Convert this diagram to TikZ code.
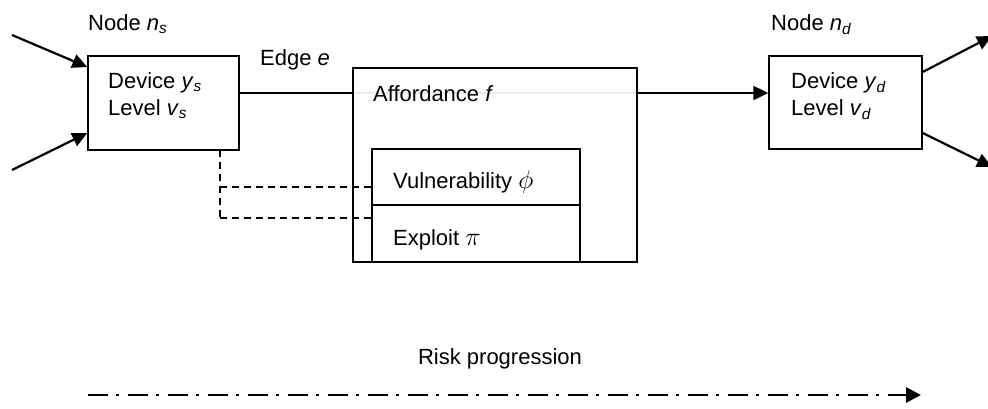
\documentclass[tikz,border=0pt]{standalone}
\usepackage{fontspec}
\setmainfont{Liberation Sans}
\usetikzlibrary{arrows.meta}
\newcommand{\sub}[2]{\textit{#1}\textsubscript{\textit{#2}}}
\begin{document}
\begin{tikzpicture}[x=1pt,y=-1pt,
  font=\fontsize{22}{27}\selectfont,
  box/.style={draw,line width=1.4pt,inner sep=0pt},
  lbl/.style={anchor=base west,inner sep=0pt},
  conn/.style={line width=2.2pt,-{Triangle[length=15pt,width=14pt]}},
  link/.style={line width=2.2pt},
  guide/.style={line width=1.4pt,dash pattern=on 7pt off 5pt},
  progress/.style={line width=2.8pt,dash pattern=on 20pt off 8pt on 3pt off 9pt,
    -{Triangle[length=15pt,width=15pt]}}]
\useasboundingbox (0,0) rectangle (988,408);
\clip (0,0) rectangle (988,408);

% edge from source to destination through the affordance
\coordinate (srcport) at (239,93);
\coordinate (affin) at (353,93);
\coordinate (affout) at (637,93);
\draw[black!8,line width=2pt] (affin) -- (affout);

% source and destination devices
\node[box,minimum width=151pt,minimum height=94pt] (src) at (163.5,103) {};
\node[box,minimum width=153pt,minimum height=93pt] (dst) at (845.5,102.5) {};
\node[lbl] (srcname) at (88,30) {Node \sub{n}{s}};
\node[lbl] (dstname) at (771,30) {Node \sub{n}{d}};
\node[lbl] (srcdev) at (108,88) {Device \sub{y}{s}};
\node[lbl] (srclev) at (108,115) {Level \sub{v}{s}};
\node[lbl] (dstdev) at (791,88) {Device \sub{y}{d}};
\node[lbl] (dstlev) at (791,115) {Level \sub{v}{d}};

% affordance with its vulnerability and exploit
\node[box,minimum width=284pt,minimum height=194pt] (aff) at (495,165) {};
\node[lbl] (afflbl) at (373,101) {Affordance \textit{f}};
\node[box,minimum width=208pt,minimum height=56pt] (vul) at (476,177) {};
\node[box,minimum width=208pt,minimum height=57pt] (exp) at (476,233.5) {};
\node[lbl] (vullbl) at (393,188) {Vulnerability \scalebox{1.25}{$\phi$}};
\node[lbl] (explbl) at (393,245) {Exploit \scalebox{1.25}{$\pi$}};
\node[lbl] (edgelbl) at (260,65) {Edge \textit{e}};

\draw[link] (src.east |- srcport) -- (aff.west |- srcport);
\draw[conn] (aff.east |- affout) -- (dst.west |- affout);

% incoming and outgoing edges
\coordinate (in1) at (12,35);
\coordinate (in2) at (12,170);
\coordinate (out1) at (992,36);
\coordinate (out2) at (992,167);
\draw[conn] (in1) -- (src.west |- 0,67);
\draw[conn] (in2) -- (src.west |- 0,133);
\draw[conn] (dst.east |- 0,72) -- (out1);
\draw[conn] (dst.east |- 0,133) -- (out2);

% dashed links from the source device to vulnerability and exploit
\coordinate (tap) at (220,150);
\draw[guide] (tap) -- (220,218);
\draw[guide] (220,187) -- (vul.west |- 0,187);
\draw[guide] (220,218) -- (exp.west |- 0,218);

% risk progression
\node[anchor=base,inner sep=0pt] (risk) at (500,364) {Risk progression};
\coordinate (rs) at (88,395);
\coordinate (re) at (921,395);
\draw[progress] (rs) -- (re);
\end{tikzpicture}
\end{document}
